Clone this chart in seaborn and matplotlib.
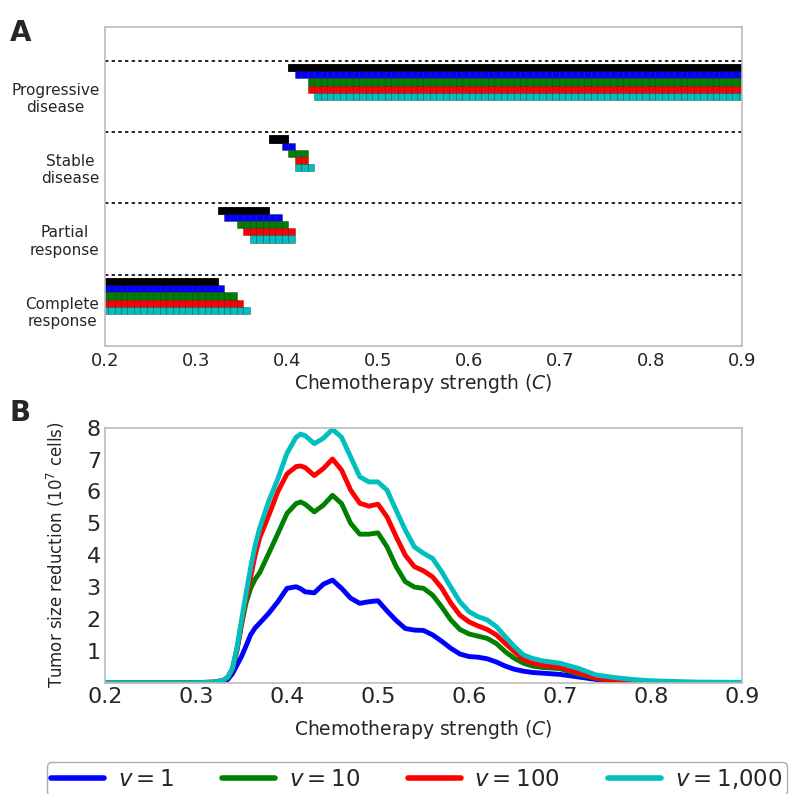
import numpy as np
import pandas as pd
import matplotlib
matplotlib.use("Agg")
import matplotlib.pyplot as plt
from matplotlib.lines import Line2D
import seaborn as sns

# ---------------- data ----------------
# Panel A: response category per chemotherapy strength grid point
categories = ["Complete\nresponse", "Partial\nresponse", "Stable\ndisease", "Progressive\ndisease"]
series_names = ["deterministic", "v = 1", "v = 10", "v = 100", "v = 1,000"]
series_colors = ["#000000", "#0000ff", "#008000", "#ff0000", "#00bfbf"]
c_grid = np.linspace(0.2, 0.9, 100)
# upper C boundaries of complete / partial / stable response for each series
thr_black = [0.324, 0.380, 0.402]
thr_blue = [0.331, 0.394, 0.409]
thr_green = [0.345, 0.402, 0.423]
thr_red = [0.352, 0.409, 0.423]
thr_cyan = [0.359, 0.409, 0.430]
thresholds = [thr_black, thr_blue, thr_green, thr_red, thr_cyan]

# Panel B: tumor size reduction (10^7 cells)
c_vals = [0.20, 0.25, 0.30, 0.32, 0.33, 0.335, 0.34, 0.345, 0.35, 0.355,
          0.36, 0.365, 0.37, 0.38, 0.39, 0.40, 0.41, 0.415, 0.42, 0.43,
          0.44, 0.45, 0.46, 0.47, 0.48, 0.49, 0.50, 0.51, 0.52, 0.53,
          0.54, 0.55, 0.56, 0.57, 0.58, 0.59, 0.60, 0.61, 0.62, 0.63,
          0.64, 0.65, 0.66, 0.67, 0.68, 0.70, 0.72, 0.74, 0.76, 0.78,
          0.80, 0.85, 0.90]
red_v1 = [0, 0, 0, 0.0, 0.03, 0.10, 0.28, 0.55, 0.82, 1.15,
          1.50, 1.72, 1.87, 2.18, 2.54, 2.96, 3.01, 2.95, 2.85, 2.82,
          3.09, 3.22, 2.96, 2.65, 2.49, 2.54, 2.57, 2.25, 1.95, 1.70,
          1.65, 1.64, 1.50, 1.30, 1.08, 0.90, 0.82, 0.80, 0.75, 0.65,
          0.52, 0.42, 0.36, 0.32, 0.30, 0.26, 0.18, 0.10, 0.05, 0.02,
          0.01, 0, 0]
red_v10 = [0, 0, 0, 0.02, 0.07, 0.16, 0.40, 1.00, 1.80, 2.50,
           2.95, 3.25, 3.45, 4.06, 4.68, 5.31, 5.62, 5.67, 5.60, 5.36,
           5.57, 5.88, 5.62, 5.00, 4.66, 4.66, 4.70, 4.26, 3.64, 3.17,
           3.00, 2.96, 2.75, 2.38, 1.97, 1.67, 1.53, 1.46, 1.39, 1.23,
           0.97, 0.76, 0.61, 0.52, 0.48, 0.44, 0.27, 0.13, 0.06, 0.03,
           0.01, 0, 0]
red_v100 = [0, 0, 0, 0.02, 0.07, 0.17, 0.42, 1.05, 1.85, 2.65,
            3.30, 4.00, 4.55, 5.25, 6.00, 6.55, 6.78, 6.80, 6.75, 6.50,
            6.72, 7.02, 6.67, 6.04, 5.63, 5.54, 5.60, 5.20, 4.58, 4.00,
            3.64, 3.51, 3.32, 2.97, 2.50, 2.12, 1.91, 1.78, 1.67, 1.50,
            1.23, 0.97, 0.73, 0.61, 0.55, 0.48, 0.31, 0.14, 0.07, 0.04,
            0.02, 0, 0]
red_v1000 = [0, 0, 0, 0.02, 0.08, 0.18, 0.45, 1.10, 1.95, 2.80,
             3.60, 4.30, 4.85, 5.70, 6.40, 7.20, 7.70, 7.80, 7.75, 7.50,
             7.67, 7.95, 7.70, 7.08, 6.46, 6.30, 6.30, 6.04, 5.41, 4.79,
             4.26, 4.06, 3.90, 3.48, 3.00, 2.54, 2.23, 2.07, 1.97, 1.76,
             1.44, 1.13, 0.87, 0.76, 0.69, 0.61, 0.45, 0.24, 0.16, 0.10,
             0.06, 0.02, 0.01]
legend_labels = ["$v=1$", "$v=10$", "$v=100$", "$v=1{,}000$"]
line_colors = ["#0000ff", "#008000", "#ff0000", "#00bfbf"]

# ---------------- figure ----------------
sns.set_style("white")
plt.rcParams["font.family"] = ["DejaVu Sans"]
fig = plt.figure(figsize=(7.94, 7.94), dpi=100)
axA = fig.add_axes([0.1322, 0.5642, 0.8023, 0.4018])
axB = fig.add_axes([0.1322, 0.1402, 0.8023, 0.3211])

# ----- Panel A -----
step = c_grid[1] - c_grid[0]
row_h = 0.1
for i, (thr, col) in enumerate(zip(thresholds, series_colors)):
    cat_idx = np.searchsorted(np.array(thr), c_grid)
    ys = cat_idx + 0.4 - row_h * i
    edge = "black" if col == "#000000" else (0, 0, 0, 0.35)
    axA.barh(ys, [step] * len(c_grid), left=c_grid - step / 2, height=row_h,
             color=col, edgecolor=edge, linewidth=0.6, align="center")
for yl in [0.5, 1.5, 2.5, 3.5]:
    axA.axhline(yl, color="black", linestyle=(0, (2, 2)), linewidth=1.2)
axA.set_xlim(0.2, 0.9)
axA.set_ylim(-0.5, 3.97)
axA.set_yticks(range(4))
axA.set_yticklabels(categories, fontsize=11, multialignment="center")
axA.set_xticks(np.arange(0.2, 0.91, 0.1))
axA.set_xticklabels([f"{v:.1f}" for v in np.arange(0.2, 0.91, 0.1)], fontsize=13)
axA.set_xlabel("Chemotherapy strength ($C$)", fontsize=13.5, labelpad=2)
axA.tick_params(axis="y", length=0, pad=4)
axA.tick_params(axis="x", direction="in", length=3, color="#bbbbbb", pad=4)
for s in axA.spines.values():
    s.set_color("#bbbbbb")
    s.set_linewidth(1.2)

# ----- Panel B -----
df = pd.DataFrame({
    "C": c_vals * 4,
    "reduction": red_v1 + red_v10 + red_v100 + red_v1000,
    "series": sum([[lab] * len(c_vals) for lab in legend_labels], []),
})
sns.lineplot(data=df, x="C", y="reduction", hue="series", hue_order=legend_labels,
             palette=line_colors, linewidth=3.5, legend=False, ax=axB)
axB.set_xlim(0.2, 0.9)
axB.set_ylim(0, 8)
axB.set_yticks(range(1, 9))
axB.set_yticklabels([str(v) for v in range(1, 9)], fontsize=16)
axB.set_xticks(np.arange(0.2, 0.91, 0.1))
axB.set_xticklabels([f"{v:.1f}" for v in np.arange(0.2, 0.91, 0.1)], fontsize=16)
axB.set_xlabel("Chemotherapy strength ($C$)", fontsize=13.5, labelpad=8)
axB.set_ylabel("Tumor size reduction (10$^7$ cells)", fontsize=12, labelpad=14)
axB.tick_params(axis="both", direction="in", length=3, color="#bbbbbb", pad=3)
for s in axB.spines.values():
    s.set_color("#bbbbbb")
    s.set_linewidth(1.2)

# panel letters
fig.text(0.012, 0.976, "A", fontsize=20, fontweight="bold", va="top")
fig.text(0.012, 0.498, "B", fontsize=20, fontweight="bold", va="top")

# legend
handles = [Line2D([0], [0], color=c, linewidth=4) for c in line_colors]
fig.legend(handles, legend_labels, loc="upper left", bbox_to_anchor=(0.059, 0.040),
           ncol=4, fontsize=16.5, frameon=True, edgecolor="#999999", handlelength=2.3,
           columnspacing=2.1, handletextpad=0.6, borderpad=0.2, borderaxespad=0.0)

fig.savefig("out.png", dpi=100)
